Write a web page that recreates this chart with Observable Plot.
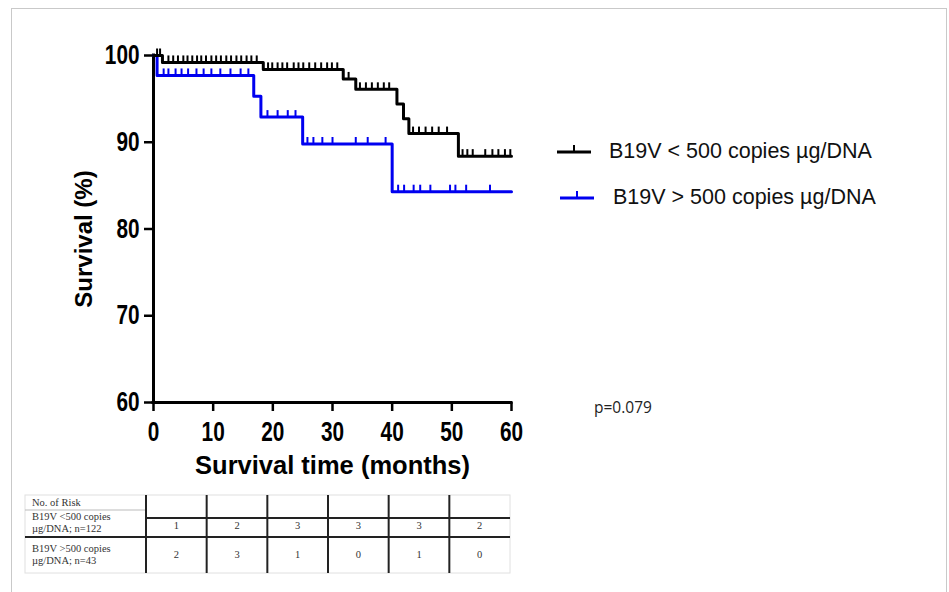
<!DOCTYPE html>
<html>
<head>
<meta charset="utf-8">
<script src="https://cdn.jsdelivr.net/npm/d3@7"></script>
<script src="https://cdn.jsdelivr.net/npm/@observablehq/plot@0.6"></script>
<style>
  body { margin: 0; background: #fff; }
  #wrap { position: relative; width: 949px; height: 592px; overflow: hidden; background: #fff;
          font-family: Arial, "Liberation Sans", sans-serif; }
  #frame { position: absolute; left: 11px; top: 8px; width: 934px; height: 620px; border: 1px solid #c9c9c9; }
  #chart, #overlay { position: absolute; left: 0; top: 0; }
</style>
</head>
<body>
<div id="wrap">
  <div id="frame"></div>
  <div id="chart"></div>
  <svg id="overlay" width="949" height="592"></svg>
</div>
<script>
// ---------- data ----------
const xTicks = [0, 10, 20, 30, 40, 50, 60];
const yTicks = [60, 70, 80, 90, 100];
const xLabel = "Survival time (months)";
const yLabel = "Survival (%)";
const seriesNames = ["B19V < 500 copies µg/DNA", "B19V > 500 copies µg/DNA"];
const seriesColors = ["#000000", "#0000f0"];

// Kaplan-Meier steps (time in months, survival %)
const lowTimes = [0, 1.5, 18.4, 31.8, 33.9, 40.8, 41.9, 42.8, 51.1, 60];
const lowSurv  = [100, 99.2, 98.4, 97.3, 96.1, 94.4, 92.7, 91.0, 88.4, 88.4];
const lowCensor = [0.6, 1.1, 2.5, 3.3, 4.1, 5.0, 5.7, 6.5, 7.3, 8.0, 8.8, 9.7, 10.5, 11.3, 12.2, 13.0,
  13.9, 14.7, 15.6, 16.4, 17.3, 19.2, 19.9, 20.8, 21.6, 22.4, 23.5, 24.3, 25.1, 26.1, 27.1, 28.1,
  29.1, 29.9, 30.8, 32.7, 34.6, 35.6, 36.6, 37.6, 38.6, 39.5, 43.5, 44.5, 45.6, 46.7, 47.8, 49.2,
  51.8, 52.6, 53.5, 55.6, 56.8, 57.8, 58.9, 59.8];

const highTimes = [0, 0.6, 16.8, 18.0, 25.0, 40.0, 60];
const highSurv  = [100, 97.7, 95.3, 92.9, 89.8, 84.3, 84.3];
const highCensor = [1.7, 2.5, 3.7, 4.7, 5.8, 7.2, 8.4, 9.7, 11.2, 12.9, 14.6, 15.9, 19.1, 20.8, 22.5,
  23.8, 25.8, 26.8, 28.3, 30.0, 33.9, 35.9, 38.9, 41.0, 42.0, 43.6, 44.7, 46.4, 49.7, 50.6, 52.4, 56.4];

const pText = "p=0.079";

// number at risk table
const riskHeader = "No. of Risk";
const riskRowLabels = [["B19V <500 copies", "µg/DNA; n=122"], ["B19V >500 copies", "µg/DNA; n=43"]];
const riskLow  = [1, 2, 3, 3, 3, 2];
const riskHigh = [2, 3, 1, 0, 1, 0];

// ---------- build tables ----------
function stepAt(times, surv, t) {
  let s = surv[0];
  for (let i = 0; i < times.length; i++) if (times[i] <= t) s = surv[i];
  return s;
}
const steps = [
  ...lowTimes.map((t, i) => ({t, s: lowSurv[i], g: seriesNames[0]})),
  ...highTimes.map((t, i) => ({t, s: highSurv[i], g: seriesNames[1]}))
];
const censors = [
  ...lowCensor.map(t => ({t, s: stepAt(lowTimes, lowSurv, t), g: seriesNames[0]})),
  ...highCensor.map(t => ({t, s: stepAt(highTimes, highSurv, t), g: seriesNames[1]}))
];

const tickSymbol = { draw(ctx) { ctx.moveTo(0, 0); ctx.lineTo(0, -7); } };
const FONT = "Arial, 'Liberation Sans', sans-serif";

const order = [seriesNames[1], seriesNames[0]]; // blue under black
const marks = [];
for (const g of order) {
  const col = seriesColors[seriesNames.indexOf(g)];
  marks.push(Plot.line(steps.filter(d => d.g === g), {x: "t", y: "s", curve: "step-after", stroke: col, strokeWidth: 3}));
  marks.push(Plot.dot(censors.filter(d => d.g === g), {x: "t", y: "s", symbol: tickSymbol, r: 3, fill: "none", stroke: col, strokeWidth: 2}));
}

const chart = Plot.plot({
  width: 949, height: 490,
  marginLeft: 153, marginRight: 438, marginTop: 55, marginBottom: 88,
  style: {background: "none", fontFamily: FONT, color: "#000"},
  x: {domain: [0, 60]},
  y: {domain: [60, 100]},
  marks: [
    Plot.axisX({ticks: xTicks, tickSize: 9, tickPadding: 10, strokeWidth: 2.5, fontSize: 27, fontWeight: "bold", label: null}),
    Plot.axisY({ticks: yTicks, tickSize: 9, tickPadding: 5, strokeWidth: 2.5, fontSize: 27, fontWeight: "bold", label: null}),
    Plot.ruleX([0], {stroke: "#000", strokeWidth: 3, strokeLinecap: "square"}),
    Plot.ruleY([60], {stroke: "#000", strokeWidth: 3, strokeLinecap: "square"}),
    ...marks,
    Plot.text([yLabel], {frameAnchor: "left", textAnchor: "middle", rotate: -90, dx: -69, dy: 10, fontSize: 24, fontWeight: "bold", fill: "#000"}),
    Plot.text([xLabel], {frameAnchor: "bottom", dy: 71, fontSize: 25.5, fontWeight: "bold", fill: "#000"})
  ]
});
document.getElementById("chart").appendChild(chart);

// condense tick labels like the reference
d3.select(chart).selectAll('g[aria-label="x-axis tick label"] text, g[aria-label="y-axis tick label"] text')
  .attr("font-weight", "bold")
  .each(function() {
    const el = d3.select(this);
    const tr = el.attr("transform");
    if (tr) el.attr("transform", tr + " scale(0.77,1)");
    else {
      const x = +el.attr("x") || 0, y = +el.attr("y") || 0;
      el.attr("x", null).attr("y", null).attr("transform", `translate(${x},${y}) scale(0.77,1)`);
    }
  });

// ---------- legend, p value, risk table ----------
const ov = d3.select("#overlay");
const legendPos = [{x1: 557, x2: 591, y: 152, tx: 609, ty: 150}, {x1: 560, x2: 594, y: 198, tx: 613, ty: 196}];
seriesNames.forEach((name, i) => {
  const p = legendPos[i];
  ov.append("line").attr("x1", p.x1).attr("x2", p.x2).attr("y1", p.y).attr("y2", p.y)
    .attr("stroke", seriesColors[i]).attr("stroke-width", 3);
  ov.append("line").attr("x1", (p.x1 + p.x2) / 2).attr("x2", (p.x1 + p.x2) / 2).attr("y1", p.y).attr("y2", p.y - 7)
    .attr("stroke", seriesColors[i]).attr("stroke-width", 2);
  ov.append("text").attr("x", p.tx).attr("y", p.ty).attr("dy", "0.36em")
    .attr("font-family", FONT).attr("font-size", 21.5).attr("fill", "#111").text(name);
});
ov.append("text").attr("x", 594).attr("y", 408).attr("dy", "0.35em")
  .attr("font-family", "'Open Sans', 'Noto Sans', sans-serif").attr("font-size", 15.5).attr("fill", "#222").text(pText);

// table
const T = {left: 25, firstRight: 146, right: 510, top: 495, bottom: 573, hdrLine: 518, labelLine: 510, midLine: 537};
const nCols = riskLow.length;
const colW = (T.right - T.firstRight) / nCols;
const tg = ov.append("g");
tg.append("rect").attr("x", T.left).attr("y", T.top).attr("width", T.right - T.left).attr("height", T.bottom - T.top)
  .attr("fill", "none").attr("stroke", "#e0e0e0").attr("stroke-width", 1);
tg.append("line").attr("x1", T.left).attr("x2", T.firstRight).attr("y1", T.labelLine).attr("y2", T.labelLine)
  .attr("stroke", "#bbb").attr("stroke-width", 1);
tg.append("line").attr("x1", T.firstRight).attr("x2", T.right).attr("y1", T.hdrLine).attr("y2", T.hdrLine)
  .attr("stroke", "#222").attr("stroke-width", 2);
tg.append("line").attr("x1", T.left).attr("x2", T.right).attr("y1", T.midLine).attr("y2", T.midLine)
  .attr("stroke", "#222").attr("stroke-width", 2);
d3.range(nCols).forEach(k => {
  const x = T.firstRight + k * colW;
  tg.append("line").attr("x1", x).attr("x2", x).attr("y1", T.top).attr("y2", T.bottom)
    .attr("stroke", "#222").attr("stroke-width", 2);
});
const serif = "'Liberation Serif', 'DejaVu Serif', serif";
const tt = (x, y, s, anchor) => tg.append("text").attr("x", x).attr("y", y).attr("dy", "0.33em")
  .attr("text-anchor", anchor || "start").attr("font-family", serif).attr("font-size", 10.5).attr("fill", "#333").text(s);
tt(32, 503, riskHeader);
tt(32, 517, riskRowLabels[0][0]); tt(32, 529, riskRowLabels[0][1]);
tt(32, 549, riskRowLabels[1][0]); tt(32, 561, riskRowLabels[1][1]);
riskLow.forEach((v, k) => tt(T.firstRight + (k + 0.5) * colW, 526, v, "middle"));
riskHigh.forEach((v, k) => tt(T.firstRight + (k + 0.5) * colW, 555, v, "middle"));
</script>
</body>
</html>
